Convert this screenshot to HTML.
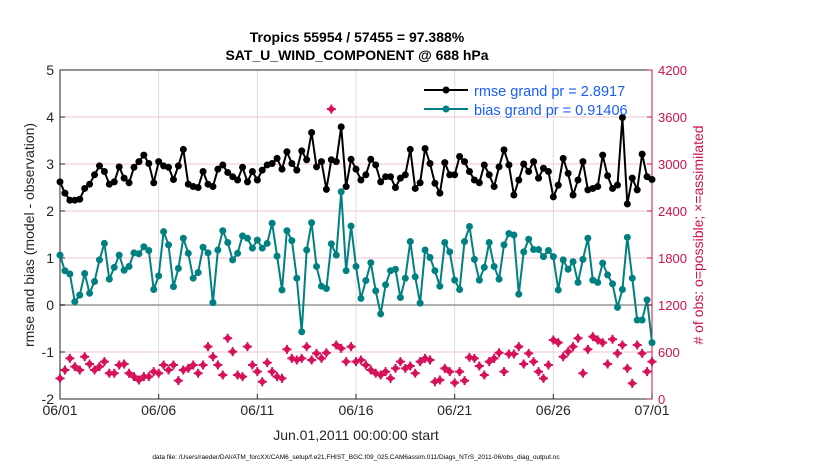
<!DOCTYPE html>
<html><head><meta charset="utf-8"><style>
body{margin:0;background:#fff;}
svg{display:block;font-family:"Liberation Sans",Arial,sans-serif;}
</style></head><body>
<svg id="chart" width="830" height="470">
<g id="grid"></g>
<g id="axes"></g>
<g id="series"></g>
<text x="357" y="42" text-anchor="middle" font-size="14" font-weight="bold">Tropics 55954 / 57455 = 97.388%</text>
<text x="357" y="60" text-anchor="middle" font-size="14" font-weight="bold">SAT_U_WIND_COMPONENT @ 688 hPa</text>
<text x="356" y="440" text-anchor="middle" font-size="14" fill="#262626">Jun.01,2011 00:00:00 start</text>
<text x="356" y="459" text-anchor="middle" font-size="6.5" fill="#000">data file: /Users/raeder/DAI/ATM_forcXX/CAM6_setup/f.e21.FHIST_BGC.f09_025.CAM6assim.011/Diags_NTrS_2011-06/obs_diag_output.nc</text>
<text transform="translate(34,235) rotate(-90)" text-anchor="middle" font-size="14" fill="#262626">rmse and bias (model - observation)</text>
<text transform="translate(703,235) rotate(-90)" text-anchor="middle" font-size="14" fill="#d0104c"># of obs: o=possible; ×=assimilated</text>
<g>
<line x1="424" y1="90" x2="468" y2="90" stroke="#000" stroke-width="2"/>
<circle cx="446" cy="90" r="3.5" fill="#000"/>
<text x="474" y="96" font-size="14.5" fill="#1a5cff">rmse grand pr = 2.8917</text>
<line x1="424" y1="109" x2="468" y2="109" stroke="#008080" stroke-width="2"/>
<circle cx="446" cy="109" r="3.5" fill="#008080"/>
<text x="474" y="115" font-size="14.5" fill="#1a5cff">bias grand pr = 0.91406</text>
</g>
</svg>
<script>
const rmse=[2.62,2.38,2.23,2.23,2.25,2.48,2.57,2.77,2.96,2.84,2.57,2.62,2.94,2.70,2.60,2.93,3.05,3.19,3.01,2.60,3.05,2.96,2.93,2.67,2.96,3.31,2.57,2.52,2.50,2.84,2.57,2.52,2.89,2.98,2.82,2.73,2.66,2.93,2.62,2.84,
2.66,2.87,2.98,3.01,3.12,2.89,3.26,3.01,2.87,3.28,3.09,3.67,2.94,3.05,2.46,3.09,3.05,3.79,2.52,3.10,2.89,2.66,2.77,3.10,2.98,2.62,2.73,2.73,2.50,2.70,2.77,3.31,2.48,2.60,3.33,3.01,2.59,2.38,3.03,2.77,
2.77,3.16,3.05,2.84,2.66,2.60,2.98,2.77,2.52,2.94,3.30,2.98,2.34,2.66,3.00,2.84,3.05,2.70,2.91,2.84,2.30,2.55,3.12,2.80,2.34,2.66,3.05,2.45,2.48,2.52,3.19,2.75,2.48,2.55,3.99,2.15,2.70,2.45,3.21,2.73,2.67];
const bias=[1.06,0.73,0.66,0.07,0.21,0.67,0.25,0.50,0.96,1.31,0.55,0.80,1.06,0.74,0.82,1.11,1.09,1.24,1.16,0.33,0.62,1.56,1.28,0.39,0.78,1.42,1.10,0.57,0.69,1.23,1.11,0.05,1.17,1.58,1.33,0.96,1.10,1.47,1.42,1.21,
1.38,1.21,1.31,1.74,1.04,0.32,1.58,1.37,0.57,-0.57,1.17,1.75,0.82,0.40,0.35,1.30,1.06,2.41,0.73,1.68,0.82,0.14,0.52,0.90,0.30,-0.19,0.43,0.73,0.76,0.16,0.57,1.35,0.60,0.04,1.17,1.01,0.73,0.40,1.33,1.13,0.53,
0.33,1.35,1.67,0.97,0.53,0.80,1.33,0.82,0.55,1.28,1.52,1.49,0.23,1.13,1.40,1.18,1.18,1.03,1.16,1.03,0.32,0.96,0.76,0.92,0.48,0.97,1.42,0.53,0.48,0.89,0.64,0.45,-0.05,0.33,1.44,0.57,-0.32,-0.32,0.11,-0.80];
const nobs=[264,370,519,413,370,540,447,370,413,477,328,328,434,447,328,285,243,285,285,349,328,434,370,434,234,370,391,434,328,434,668,540,434,306,775,604,306,285,668,434,
349,221,464,349,285,264,634,519,498,519,668,498,583,519,591,3700,689,647,477,668,477,498,434,370,328,306,349,264,391,477,391,421,328,477,519,498,221,243,391,349,208,
349,234,532,519,421,306,477,519,591,349,574,574,668,447,583,477,349,264,434,753,719,540,604,668,775,328,634,796,753,719,447,762,583,689,391,200,689,583,349,477];
const xTickLabels=["06/01","06/06","06/11","06/16","06/21","06/26","07/01"];
const xTickDays=[0,5,10,15,20,25,30];
const yLeftTicks=[-2,-1,0,1,2,3,4,5];
const yRightTicks=[0,600,1200,1800,2400,3000,3600,4200];
const stepDays=0.25;

const L=60,R=652,T=70,B=399;
const X=d=>L+(d/30)*(R-L);
const Y=v=>B-(v+2)/7*(B-T);
const Y2=v=>B-v/4200*(B-T);
const NS="http://www.w3.org/2000/svg";
function mk(tag,attrs,parent){const e=document.createElementNS(NS,tag);for(const k in attrs)e.setAttribute(k,attrs[k]);parent.appendChild(e);return e;}
const grid=document.getElementById('grid'),axes=document.getElementById('axes'),ser=document.getElementById('series');

yRightTicks.forEach(v=>{const l=mk('line',{x1:L,x2:R,y1:Y2(v),y2:Y2(v),stroke:'#f2c6d6','stroke-width':1},grid);

});
xTickDays.forEach(d=>{const l=mk('line',{x1:X(d),x2:X(d),y1:T,y2:B,stroke:'#dcdcdc','stroke-width':1},grid);

});
const z=mk('line',{x1:L,x2:R,y1:Y(0),y2:Y(0),stroke:'#b0b0b0','stroke-width':2},grid);



mk('rect',{x:L,y:T,width:R-L,height:B-T,fill:'none',stroke:'#262626','stroke-width':1},axes);
mk('line',{x1:R,x2:R,y1:T,y2:B,stroke:'#d0104c','stroke-width':1},axes);
yLeftTicks.forEach(v=>{mk('line',{x1:L,x2:L+5,y1:Y(v),y2:Y(v),stroke:'#262626'},axes);
const t=mk('text',{x:L-6,y:Y(v)+5,'text-anchor':'end','font-size':14,fill:'#262626'},axes);t.textContent=v;

});
yRightTicks.forEach(v=>{mk('line',{x1:R-5,x2:R,y1:Y2(v),y2:Y2(v),stroke:'#d0104c'},axes);
const t=mk('text',{x:R+6,y:Y2(v)+5,'font-size':13,fill:'#d0104c'},axes);t.textContent=v;

});
xTickDays.forEach((d,i)=>{mk('line',{x1:X(d),x2:X(d),y1:B,y2:B-5,stroke:'#262626'},axes);
const t=mk('text',{x:X(d),y:B+16,'text-anchor':'middle','font-size':14,fill:'#262626'},axes);t.textContent=xTickLabels[i];

});

nobs.forEach((v,i)=>{const g=mk('g',{},ser);


const cx=X(i*stepDays),cy=Y2(v);
mk('circle',{cx:cx,cy:cy,r:3,fill:'#d6105a'},g);
mk('path',{d:`M${cx-4.5} ${cy}H${cx+4.5}M${cx} ${cy-4.5}V${cy+4.5}`,stroke:'#d6105a','stroke-width':2},g);});

function line(arr,color,name){
const pts=arr.map((v,i)=>X(i*stepDays).toFixed(1)+','+Y(v).toFixed(1)).join(' ');
const p=mk('polyline',{points:pts,fill:'none',stroke:color,'stroke-width':2,'stroke-linejoin':'round'},ser);


arr.forEach((v,i)=>{const c=mk('circle',{cx:X(i*stepDays),cy:Y(v),r:3.5,fill:color},ser);

});
}
line(rmse,'#000','rmse');
line(bias,'#008080','bias');
</script>
</body></html>
